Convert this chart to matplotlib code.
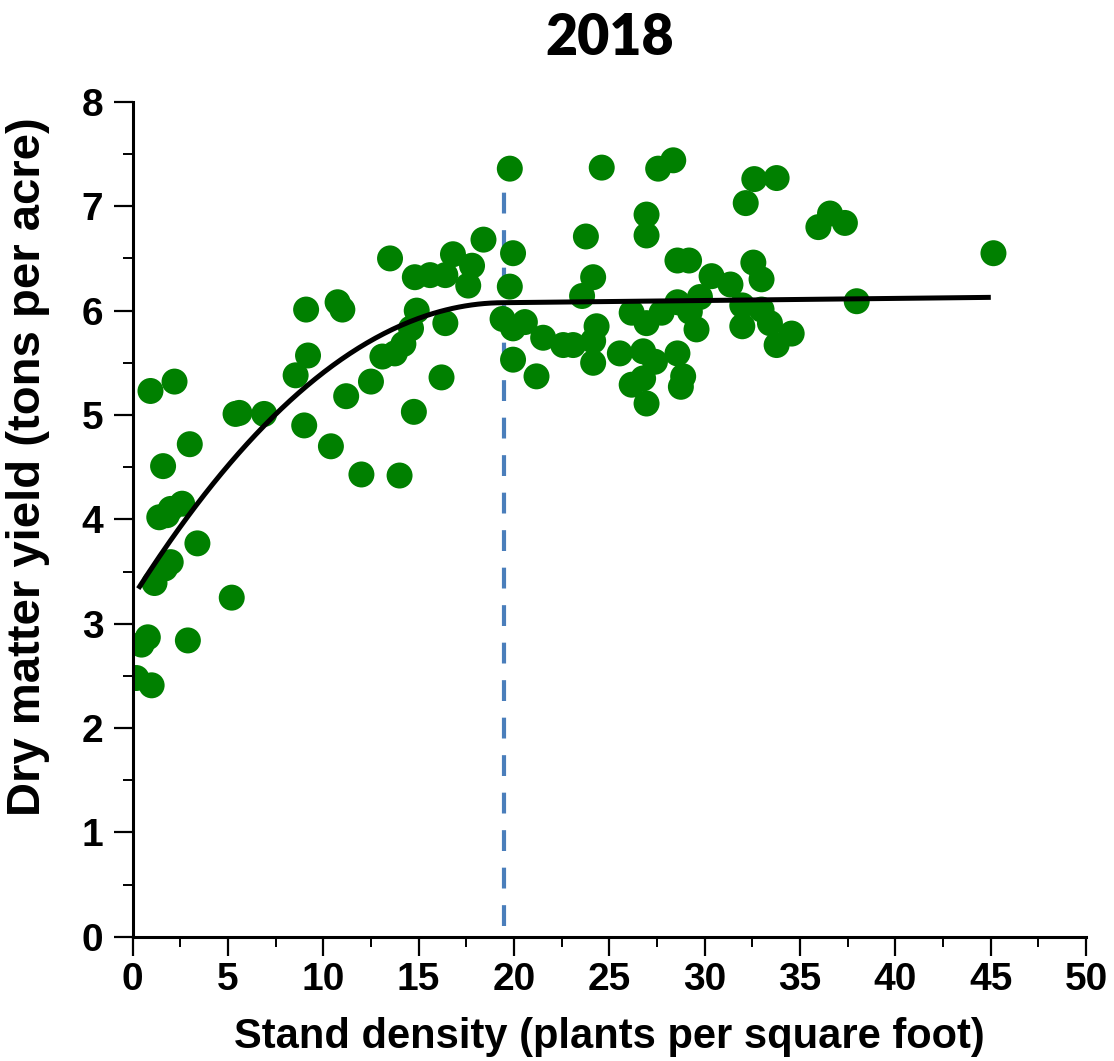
import numpy as np
import matplotlib.pyplot as plt
from matplotlib.ticker import MultipleLocator

plt.rcParams['font.family'] = ['Liberation Sans', 'DejaVu Sans']
plt.rcParams['font.weight'] = 'bold'

# stand density (plants / sq ft) and dry matter yield (tons / acre)
density = [
    0.2, 0.47, 0.8, 1.0, 0.94, 2.2, 1.6, 3.0, 1.4, 1.8, 2.0, 2.6, 3.4, 2.0, 1.7,
    1.15, 2.9, 5.2, 5.4, 5.6, 6.9, 8.55, 9.0, 9.2, 9.1, 10.4, 10.75, 11.0, 11.2,
    12.0, 12.5, 13.1, 13.5, 13.75, 14.0, 14.2, 14.6, 14.9, 14.75, 14.8, 15.6,
    16.4, 16.2, 16.4, 16.8, 17.8, 17.6, 18.4,
    19.78, 24.6, 27.56, 28.35, 32.6, 33.77, 32.15, 26.95, 26.95, 23.77, 36.57,
    35.96, 37.35, 19.95, 28.57, 29.18, 19.78, 24.15, 23.57, 32.55, 32.98, 30.36,
    31.35, 37.97, 29.75, 28.57, 29.22, 29.57, 31.97, 32.98, 31.97, 33.42, 34.56,
    33.77, 19.4, 19.95, 20.57, 21.53, 22.58, 23.1, 24.15, 24.33, 24.15, 26.17,
    26.95, 27.74, 25.55, 26.77, 27.39, 28.57, 26.17, 26.77, 28.87, 28.75, 26.95,
    19.95, 21.18, 45.14,
]
dm_yield = [
    2.48, 2.80, 2.87, 2.41, 5.23, 5.32, 4.51, 4.72, 4.02, 4.04, 4.10, 4.15, 3.77,
    3.59, 3.53, 3.39, 2.84, 3.25, 5.01, 5.02, 5.01, 5.38, 4.90, 5.57, 6.01, 4.70,
    6.08, 6.01, 5.18, 4.43, 5.32, 5.56, 6.50, 5.59, 4.42, 5.68, 5.83, 6.00, 5.03,
    6.32, 6.34, 6.34, 5.36, 5.88, 6.54, 6.43, 6.24, 6.68,
    7.36, 7.37, 7.36, 7.44, 7.26, 7.27, 7.03, 6.92, 6.72, 6.71, 6.93,
    6.80, 6.84, 6.55, 6.48, 6.48, 6.23, 6.32, 6.14, 6.46, 6.30, 6.33,
    6.25, 6.09, 6.13, 6.08, 5.99, 5.82, 6.05, 6.01, 5.85, 5.88, 5.78,
    5.67, 5.92, 5.83, 5.89, 5.74, 5.67, 5.67, 5.71, 5.85, 5.50, 5.98,
    5.88, 5.98, 5.59, 5.61, 5.51, 5.59, 5.29, 5.35, 5.37, 5.27, 5.11,
    5.53, 5.37, 6.55,
]

# quadratic-plateau fit
a, b, c = 3.25, 0.290, -0.00744
join = 19.5
plateau_slope = 0.002

xs = np.linspace(0.3, 45, 400)
peak = a + b * join + c * join ** 2
fit = np.where(xs < join, a + b * xs + c * xs ** 2, peak + plateau_slope * (xs - join))

fig = plt.figure(figsize=(11.14, 10.61), dpi=100)
ax = fig.add_axes([0.119, 0.117, 0.856, 0.787])

ax.plot([join, join], [0.1, 7.3], color='#4a7ebb', lw=3, dashes=(5, 4), zorder=1)
ax.scatter(density, dm_yield, s=350, color='#008000', edgecolors='none', zorder=2)
ax.plot(xs, fit, color='black', lw=3.6, zorder=3, solid_capstyle='butt')

ax.set_xlim(0, 50)
ax.set_ylim(0, 8)
ax.xaxis.set_major_locator(MultipleLocator(5))
ax.xaxis.set_minor_locator(MultipleLocator(2.5))
ax.yaxis.set_major_locator(MultipleLocator(1))
ax.yaxis.set_minor_locator(MultipleLocator(0.5))

for side in ('top', 'right'):
    ax.spines[side].set_visible(False)
for side in ('left', 'bottom'):
    ax.spines[side].set_linewidth(2.2)

ax.tick_params(which='major', length=14, width=1.6, labelsize=28)
ax.tick_params(axis='x', which='major', pad=4)
ax.tick_params(axis='y', which='major', pad=7)
ax.tick_params(which='minor', length=7, width=1.4)

ax.set_xlabel('Stand density (plants per square foot)', fontsize=30, fontweight='bold', labelpad=14)
ax.set_ylabel('Dry matter yield (tons per acre)', fontsize=34, fontweight='bold')
ax.yaxis.set_label_coords(-0.087, 0.563)
ax.set_title('2018', fontsize=40, fontweight='heavy', pad=34,
             family=['Lato', 'DejaVu Sans'])

fig.savefig('out.png', dpi=100)
